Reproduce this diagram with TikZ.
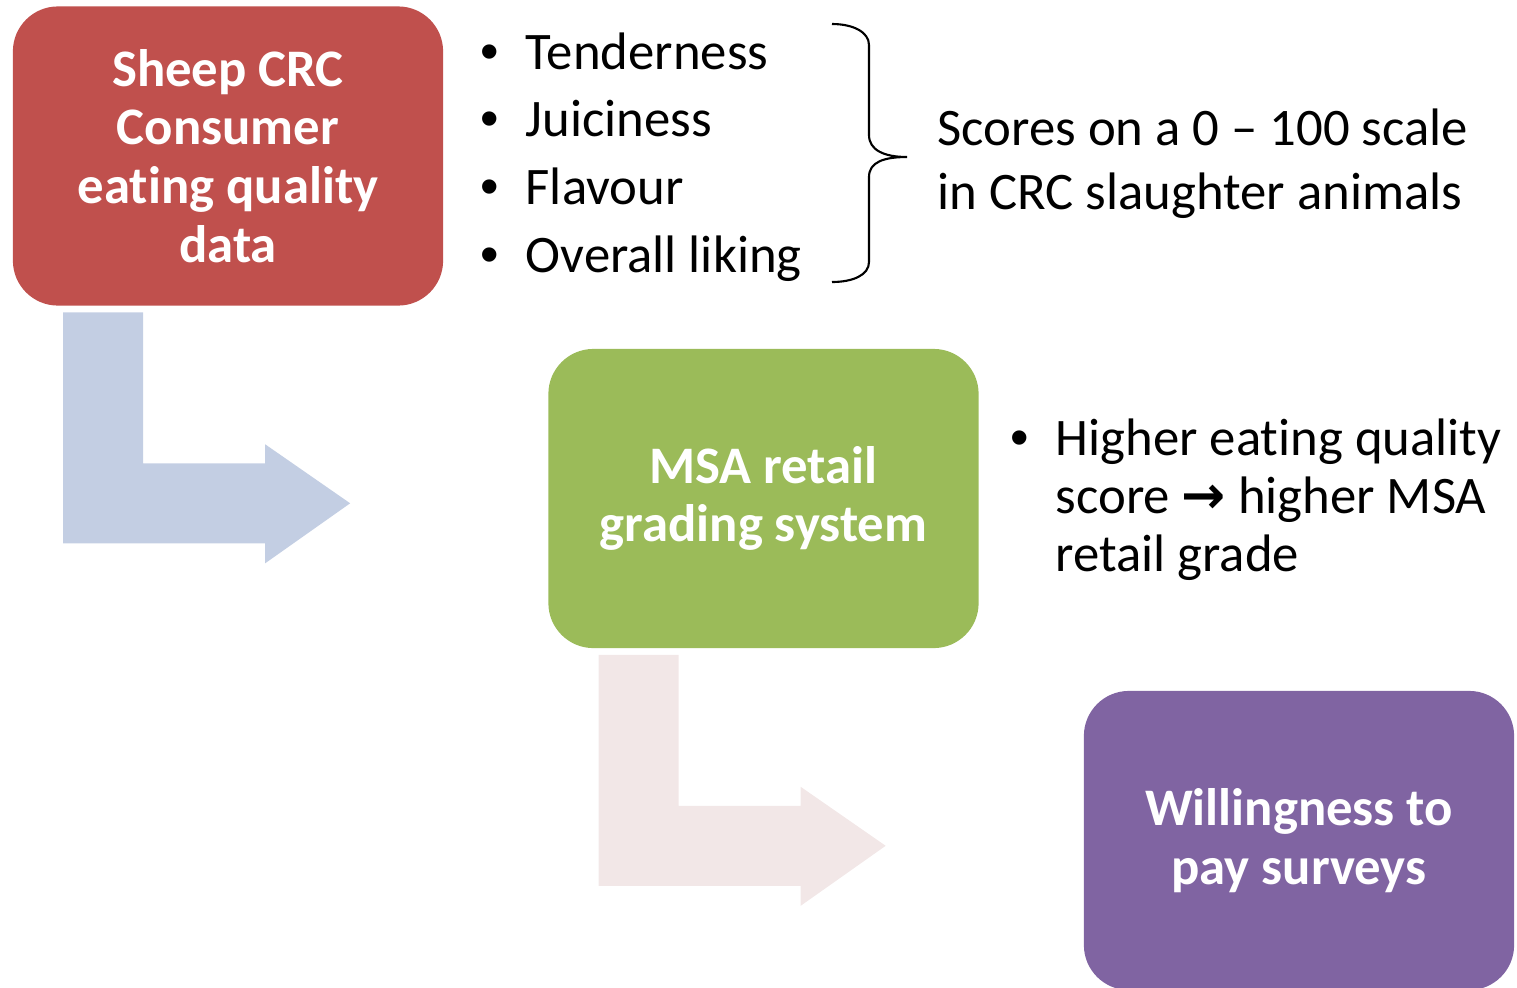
\documentclass[tikz,border=0pt]{standalone}
\usepackage{fontspec}
\setmainfont{Carlito}
\newfontfamily\arrowfont{DejaVu Sans}
\newfontfamily\dotfont{Liberation Sans}
\usetikzlibrary{positioning}
\tikzset{>=latex}
\definecolor{BoxRed}{RGB}{192,80,77}
\definecolor{BoxGreen}{RGB}{155,187,89}
\definecolor{BoxPurple}{RGB}{128,100,162}
\definecolor{ArrowBlue}{RGB}{195,206,227}
\definecolor{ArrowPink}{RGB}{242,231,231}
% bullet with a fixed hanging indent
\newcommand{\bul}{\makebox[0.45cm][l]{\dotfont\textbullet}}
% bent block arrow, origin at the lower left corner of the box above it
\tikzset{
  bentarrow/.pic={
    \path[pic actions] (51,6) -- (131,6) -- (131,157) -- (253,157) -- (253,138)
      -- (338,197) -- (253,257) -- (253,237) -- (51,237) -- cycle;
  }
}

\begin{document}
\begin{tikzpicture}[x=0.01cm,y=-0.01cm,
    stepbox/.style={rectangle,rounded corners=0.45cm,minimum width=4.3cm,minimum height=2.99cm,
      inner sep=0pt,align=center,text=white,font=\fontsize{15}{16.7}\selectfont\bfseries},
    txt/.style={inner sep=0pt,anchor=base west,font=\fontsize{15}{16.6}\selectfont}]
        \useasboundingbox (0,0) rectangle (1517,987);
        % the three stages (kern keeps t and i apart)
        \node[stepbox,fill=BoxRed] (crc) at (228,156) {Sheep CRC\\Consumer\\eat\kern0pt ing quality\\data};
        \node[stepbox,fill=BoxGreen] (msa) at (763.5,498.5) {MSA retail\\grading system};
        \node[stepbox,fill=BoxPurple] (wtp) at (1299,840.5) {Willingness to\\pay surveys};
        % arrows between the stages
        \pic[fill=ArrowBlue] at (crc.south west) {bentarrow};
        \pic[fill=ArrowPink] at (msa.south west) {bentarrow};
        % eating quality traits
        \node[txt] (tender) at (480,69) {\bul Tenderness};
        \node[txt] (juicy) at (480,136) {\bul Juiciness};
        \node[txt] (flavour) at (480,204) {\bul Flavour};
        \node[txt] (liking) at (480,272) {\bul Overall liking};
        \draw[line width=0.6pt] (832,24) .. controls (853,24) and (869,32) .. (869,45) -- (869,135)
          .. controls (869,150) and (884,157) .. (907,157) .. controls (884,157) and (869,162) .. (869,177)
          -- (869,262) .. controls (869,275) and (853,282) .. (832,282);
        \node[txt,font=\fontsize{15}{18.2}\selectfont] (scores) at (937,145)
          {\begin{tabular}[t]{@{}l@{}}Scores on a 0 -- 100 scale\\in CRC slaughter animals\end{tabular}};
        \node[txt] (grade) at (1010,455)
          {\bul\begin{tabular}[t]{@{}l@{}}Higher eat\kern0pt ing quality\\score {\arrowfont\bfseries →} higher MSA\\retail grade\end{tabular}};
\end{tikzpicture}
\end{document}
